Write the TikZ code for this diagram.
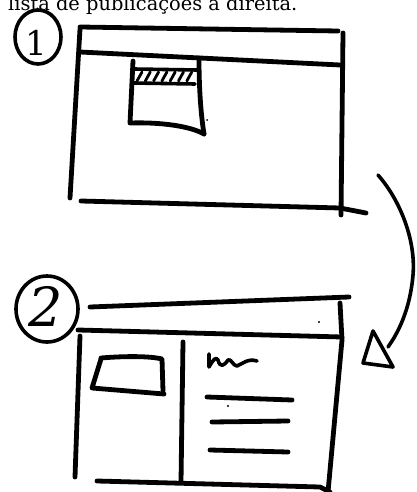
\documentclass[tikz,border=0pt]{standalone}
\usepackage{fontspec}
\setmainfont{DejaVu Serif}
\usetikzlibrary{shapes.geometric}
\begin{document}
\begin{tikzpicture}[x=1pt, y=-1pt, line cap=round, line join=round,
    pen/.style={line width=4.8pt},
    finepen/.style={line width=3.6pt},
    ring/.style={ellipse, draw, line width=3.6pt, inner sep=0pt},
    digit/.style={inner sep=0pt}]
  \useasboundingbox (0,0) rectangle (416,492);
  \clip (0,0) rectangle (416,492);
  % caption, cut off by the top edge
  \node[anchor=base west, inner sep=0pt, font=\fontsize{19.4}{20}\selectfont] (caption) at (8,11) {lista de publicações à direita.};
  % ---- sketch 1 ----
  \node[ring, minimum width=46pt, minimum height=54pt] (ring1) at (38,37) {};
  \node[digit, font=\fontsize{34}{34}\selectfont] (num1) at (36,43) {1};
  \draw[pen] (80,27) -- (338,31);
  \draw[pen] (80,29) -- (70,198);
  \draw[pen] (80,52) -- (340,65);
  \draw[pen] (343,33) -- (341,215);
  \draw[pen] (81,201) -- (340,208) -- (366,213);
  % dialog box
  \draw[pen] (133,61) -- (130,123) .. controls (160,122) and (190,126) .. (204,134);
  \draw[pen] (199,58) .. controls (199,90) and (201,115) .. (204,134);
  \draw[finepen] (134,69) -- (197,70);
  \draw[finepen] (133,83) -- (195,84);
  \foreach \i in {0,...,6}
    \draw[line width=2.8pt] (137+\i*8.3,81) -- (142+\i*8.3,72);
  \fill (207,120) circle (1pt);
  % ---- arrow ----
  \coordinate (bend start) at (378,175);
  \coordinate (bend end) at (388,347);
  \draw[finepen] (bend start) .. controls (400,200) and (416,240) .. (413,275)
    .. controls (410,310) and (398,333) .. (bend end);
  \draw[finepen] (373,331) -- (363,363) -- (393,367) -- cycle;
  % ---- sketch 2 ----
  \node[ring, minimum width=62pt, minimum height=66pt] (ring2) at (47,309) {};
  \node[digit, font=\fontsize{54}{54}\itshape\selectfont] (num2) at (46,306) {2};
  \draw[pen] (90,307) -- (349,297);
  \draw[pen] (78,330) -- (342,337);
  \draw[pen] (340,303) -- (342,340) -- (328,492);
  \fill (319,322) circle (1.2pt);
  \draw[pen] (80,336) -- (75,477);
  \draw[pen] (183,342) -- (181,482);
  \draw[pen] (97,481) -- (320,487) -- (330,492);
  % image placeholder
  \draw[pen] (101,359) -- (92,388) -- (164,394);
  \draw[pen] (101,358) .. controls (125,356) and (150,356) .. (162,359) -- (163,391);
  % title scribble and text lines
  \draw[finepen] (209,354) -- (209,367) .. controls (213,360) and (216,356) .. (218,360)
    .. controls (220,368) and (224,366) .. (228,360) .. controls (231,358) and (233,366) .. (237,366)
    .. controls (242,364) and (248,358) .. (257,361);
  \draw[pen] (207,397) -- (292,400);
  \fill (228,406) circle (1.2pt);
  \draw[pen] (212,422) -- (288,421);
  \draw[pen] (210,450) -- (288,452);
\end{tikzpicture}
\end{document}
